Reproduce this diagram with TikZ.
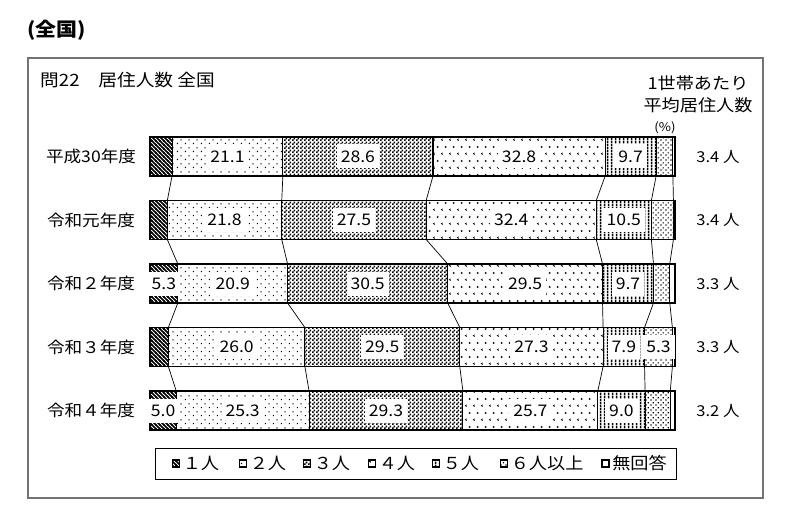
\documentclass[tikz,border=0pt]{standalone}
\usepackage{fontspec}
\setmainfont{Noto Sans CJK JP}[FakeStretch=1.1]
\usetikzlibrary{calc,patterns,positioning}

% fill patterns of the answers
\pgfdeclarepatternformonly{onestripe}{\pgfqpoint{-1pt}{-1pt}}{\pgfqpoint{5pt}{5pt}}{\pgfqpoint{4pt}{4pt}}{
	\pgfsetlinewidth{1.6pt}
	\pgfpathqmoveto{-1pt}{5pt}
	\pgfpathqlineto{5pt}{-1pt}
	\pgfusepath{stroke}
}
\pgfdeclarepatternformonly{twodots}{\pgfpointorigin}{\pgfqpoint{8pt}{8pt}}{\pgfqpoint{8pt}{8pt}}{
	\pgfpathrectangle{\pgfqpoint{1pt}{1pt}}{\pgfqpoint{1.2pt}{1.2pt}}
	\pgfpathrectangle{\pgfqpoint{5pt}{5pt}}{\pgfqpoint{1.2pt}{1.2pt}}
	\pgfusepath{fill}
}
\pgfdeclarepatternformonly{threecheck}{\pgfpointorigin}{\pgfqpoint{4pt}{4pt}}{\pgfqpoint{4pt}{4pt}}{
	\pgfpathrectangle{\pgfpointorigin}{\pgfqpoint{2pt}{2pt}}
	\pgfpathrectangle{\pgfqpoint{2pt}{2pt}}{\pgfqpoint{2pt}{2pt}}
	\pgfusepath{fill}
}
\pgfdeclarepatternformonly{fourmarks}{\pgfpointorigin}{\pgfqpoint{8pt}{14pt}}{\pgfqpoint{8pt}{14pt}}{
	\pgfsetlinewidth{0.7pt}
	\pgfpathqmoveto{3pt}{4.4pt}\pgfpathqlineto{1.5pt}{3.5pt}\pgfpathqlineto{3pt}{2.6pt}
	\pgfpathqmoveto{5.5pt}{11.4pt}\pgfpathqlineto{7pt}{10.5pt}\pgfpathqlineto{5.5pt}{9.6pt}
	\pgfusepath{stroke}
}
\pgfdeclarepatternformonly{fivebars}{\pgfpointorigin}{\pgfqpoint{3.5pt}{3pt}}{\pgfqpoint{3.5pt}{3pt}}{
	\pgfpathrectangle{\pgfqpoint{0.9pt}{0pt}}{\pgfqpoint{1.7pt}{3pt}}
	\pgfusepath{fill}
}
\pgfdeclarepatternformonly{sixdots}{\pgfpointorigin}{\pgfqpoint{5pt}{5pt}}{\pgfqpoint{5pt}{5pt}}{
	\pgfpathrectangle{\pgfqpoint{0.5pt}{0.5pt}}{\pgfqpoint{1.4pt}{1.4pt}}
	\pgfpathrectangle{\pgfqpoint{3pt}{3pt}}{\pgfqpoint{1.4pt}{1.4pt}}
	\pgfusepath{fill}
}

\tikzset{
	segment/.style={draw=black, line width=1.1pt},
	seg1/.style={segment, pattern=onestripe},
	seg2/.style={segment, pattern=twodots},
	seg3/.style={segment, pattern=threecheck},
	seg4/.style={segment, pattern=fourmarks},
	seg5/.style={segment, pattern=fivebars},
	seg6/.style={segment, pattern=sixdots},
	seg7/.style={segment, fill=white},
	lbl/.style={fill=white, inner xsep=4pt, inner ysep=0pt, minimum height=24pt, font=\fontsize{16}{16}\selectfont},
	link/.style={line width=0.7pt},
	rowname/.style={font=\fontsize{16}{16}\selectfont},
	perhead/.style={font=\fontsize{15}{15}\selectfont},
	key/.style={draw, line width=1.2pt, minimum size=7pt, inner sep=0pt},
	keytext/.style={font=\fontsize{16.5}{16.5}\selectfont, inner sep=0pt},
}

% one bar: name, top, shares (%)
\newcommand{\makebar}[3]{
	\coordinate (#1t0) at (150,#2);
	\coordinate (#1b0) at (150,#2+39);
	\foreach \v [count=\i] in {#3}{
		\pgfmathtruncatemacro{\j}{\i-1}
		\coordinate (#1t\i) at ($(#1t\j)+(5.25*\v,0)$);
		\coordinate (#1b\i) at ($(#1t\i)+(0,39)$);
		\coordinate (#1m\i) at ($(#1t\j)!0.5!(#1b\i)$);
		\draw[seg\i] (#1t\j) rectangle (#1b\i);
	}
}

\begin{document}
\begin{tikzpicture}[x=1pt,y=-1pt]
	\fill[white] (0,0) rectangle (791,521);
	\useasboundingbox (0,0) rectangle (791,521);
	\node[anchor=west, inner sep=0pt, font=\fontsize{19}{19}\selectfont\bfseries] (title) at (27,30) {(全国)};
	\draw[draw=black!55, line width=1.4pt] (28,58) rectangle (763,498);
	\node[anchor=west, inner sep=0pt, font=\fontsize{17}{17}\selectfont] (sub) at (40,80) {問22　居住人数 全国};
	\node[font=\fontsize{16.5}{16.5}\selectfont] (head1) at (698,83) {1世帯あたり};
	\node[font=\fontsize{16.5}{16.5}\selectfont] (head2) at (698,105) {平均居住人数};
	\node[font=\fontsize{12}{12}\selectfont] (pct) at (665,128) {(\%)};

	\makebar{h30}{137}{4.2,21.1,28.6,32.8,9.7,3.2,0.4}
	\makebar{r1}{200.5}{3.3,21.8,27.5,32.4,10.5,4.2,0.3}
	\makebar{r2}{264}{5.3,20.9,30.5,29.5,9.7,3.1,1.0}
	\makebar{r3}{327.5}{3.5,26.0,29.5,27.3,7.9,5.3,0.5}
	\makebar{r4}{391}{5.0,25.3,29.3,25.7,9.0,4.8,0.9}

	\foreach \up/\dn in {h30/r1, r1/r2, r2/r3, r3/r4}
		\foreach \k in {1,...,6}
			\draw[link] (\up b\k) -- (\dn t\k);

	\node[lbl] (h30v2) at (h30m2) {21.1};
	\node[lbl] (h30v3) at (h30m3) {28.6};
	\node[lbl] (h30v4) at (h30m4) {32.8};
	\node[lbl] (h30v5) at (h30m5) {9.7};
	\node[lbl] (r1v2) at (r1m2) {21.8};
	\node[lbl] (r1v3) at (r1m3) {27.5};
	\node[lbl] (r1v4) at (r1m4) {32.4};
	\node[lbl] (r1v5) at (r1m5) {10.5};
	\node[lbl] (r2v1) at (r2m1) {5.3};
	\node[lbl] (r2v2) at (r2m2) {20.9};
	\node[lbl] (r2v3) at (r2m3) {30.5};
	\node[lbl] (r2v4) at (r2m4) {29.5};
	\node[lbl] (r2v5) at (r2m5) {9.7};
	\node[lbl] (r3v2) at (r3m2) {26.0};
	\node[lbl] (r3v3) at (r3m3) {29.5};
	\node[lbl] (r3v4) at (r3m4) {27.3};
	\node[lbl] (r3v5) at (r3m5) {7.9};
	\node[lbl] (r3v6) at (r3m6) {5.3};
	\node[lbl] (r4v1) at (r4m1) {5.0};
	\node[lbl] (r4v2) at (r4m2) {25.3};
	\node[lbl] (r4v3) at (r4m3) {29.3};
	\node[lbl] (r4v4) at (r4m4) {25.7};
	\node[lbl] (r4v5) at (r4m5) {9.0};

	\node[rowname] (h30name) at (91,156.5) {平成30年度};
	\node[rowname] (r1name) at (91,220) {令和元年度};
	\node[rowname] (r2name) at (91,283.5) {令和２年度};
	\node[rowname] (r3name) at (91,347) {令和３年度};
	\node[rowname] (r4name) at (91,410.5) {令和４年度};

	\node[perhead] (h30avg) at (718,156.5) {3.4 人};
	\node[perhead] (r1avg) at (718,220) {3.4 人};
	\node[perhead] (r2avg) at (718,283.5) {3.3 人};
	\node[perhead] (r3avg) at (718,347) {3.3 人};
	\node[perhead] (r4avg) at (718,410.5) {3.2 人};

	% legend
	\node[draw, line width=0.8pt, minimum width=521pt, minimum height=31pt, inner sep=0pt] (legend) at (415.5,463.5) {};
	\node[key, pattern=onestripe] (k1) at (176,463.5) {};
	\node[keytext, right=2.5pt of k1] (k1t) {１人};
	\node[key, pattern=twodots] (k2) at (243,463.5) {};
	\node[keytext, right=2.5pt of k2] (k2t) {２人};
	\node[key, pattern=threecheck] (k3) at (307,463.5) {};
	\node[keytext, right=2.5pt of k3] (k3t) {３人};
	\node[key, pattern=fourmarks] (k4) at (372,463.5) {};
	\node[keytext, right=2.5pt of k4] (k4t) {４人};
	\node[key, pattern=fivebars] (k5) at (436,463.5) {};
	\node[keytext, right=2.5pt of k5] (k5t) {５人};
	\node[key, pattern=sixdots] (k6) at (504,463.5) {};
	\node[keytext, right=2.5pt of k6] (k6t) {６人以上};
	\node[key, fill=white] (k7) at (605.5,463.5) {};
	\node[keytext, right=2.5pt of k7] (k7t) {無回答};
\end{tikzpicture}
\end{document}
